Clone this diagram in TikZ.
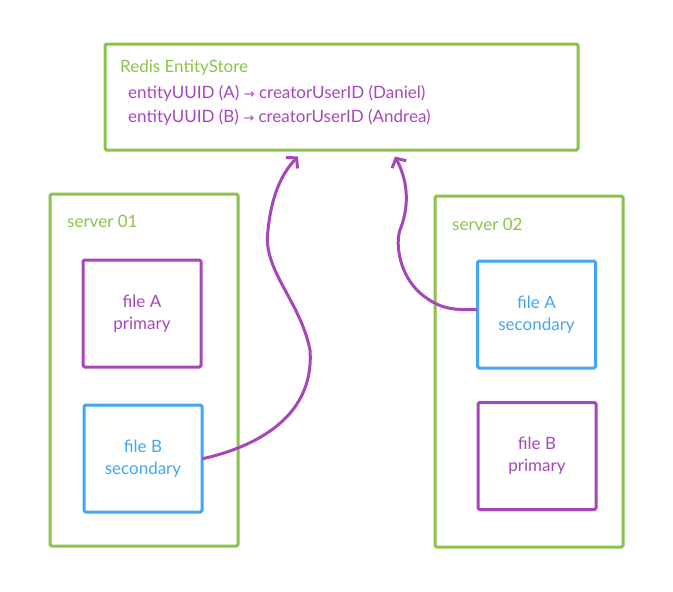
\documentclass[tikz,border=0pt]{standalone}
\usepackage{fontspec}
\setmainfont{Lato}
\newfontfamily\symfont{DejaVu Sans}
\usetikzlibrary{arrows.meta,positioning,calc}
\definecolor{SketchGreen}{RGB}{139,195,74}
\definecolor{SketchPurple}{RGB}{166,70,186}
\definecolor{SketchBlue}{RGB}{66,165,245}
\newcommand{\maparrow}{{\symfont\fontsize{13}{13}\selectfont →}}
\tikzset{
  gbox/.style={draw=SketchGreen,line width=3pt,rounded corners=1.5pt},
  pbox/.style={draw=SketchPurple,line width=3pt,rounded corners=1.5pt,
               minimum width=118pt,minimum height=107pt,
               text=SketchPurple,align=center,font=\fontsize{17}{22}\selectfont},
  bbox/.style={draw=SketchBlue,line width=3pt,rounded corners=1.5pt,
               minimum width=118pt,minimum height=107pt,
               text=SketchBlue,align=center,font=\fontsize{17}{22}\selectfont},
  glabel/.style={anchor=west,text=SketchGreen,font=\fontsize{17}{20}\selectfont,inner sep=0pt},
  plabel/.style={anchor=west,text=SketchPurple,font=\fontsize{17}{20}\selectfont,inner sep=0pt},
  arr/.style={-{Straight Barb[length=7pt,width=16pt,line width=3pt]},SketchPurple,line width=3pt,line cap=round},
}
\begin{document}
\begin{tikzpicture}[x=1pt,y=-1pt]
  \useasboundingbox (0,0) rectangle (673,592);
  % store
  \node[gbox,minimum width=473pt,minimum height=106pt] (redis) at (341.5,97) {};
  \node[glabel] (title) at (120,68) {Redis EntityStore};
  \node[plabel] (rowA) at (128,93) {entityUUID (A) \maparrow{} creatorUserID (Daniel)};
  \node[plabel] (rowB) at (128,117) {entityUUID (B) \maparrow{} creatorUserID (Andrea)};
  % servers
  \node[gbox,minimum width=188pt,minimum height=352pt] (srv1) at (144,370) {};
  \node[glabel] (srv1lbl) at (67,221) {server 01};
  \node[gbox,minimum width=188pt,minimum height=351pt] (srv2) at (529,371.5) {};
  \node[glabel] (srv2lbl) at (452,224) {server 02};
  % files
  \node[pbox] (fileAp) at (142,313.5) {file A\\primary};
  \node[bbox] (fileBs) at (143,458.5) {file B\\secondary};
  \node[bbox] (fileAs) at (536.5,314.5) {file A\\secondary};
  \node[pbox] (fileBp) at (537,456) {file B\\primary};
  % links
  \draw[arr] (fileBs.east) .. controls (250,448) and (315,420) .. (310,350)
    .. controls (300,300) and (262,270) .. (268,230)
    .. controls (272,190) and (285,170) .. ([xshift=-43.5pt,yshift=-5pt]redis.south);
  \draw[arr] ([yshift=5pt]fileAs.west) .. controls (455,310) and (440,310) .. (420,293)
    .. controls (400,275) and (395,245) .. (400,230)
    .. controls (408,210) and (410,185) .. ([xshift=53.5pt,yshift=-5pt]redis.south);
\end{tikzpicture}
\end{document}
